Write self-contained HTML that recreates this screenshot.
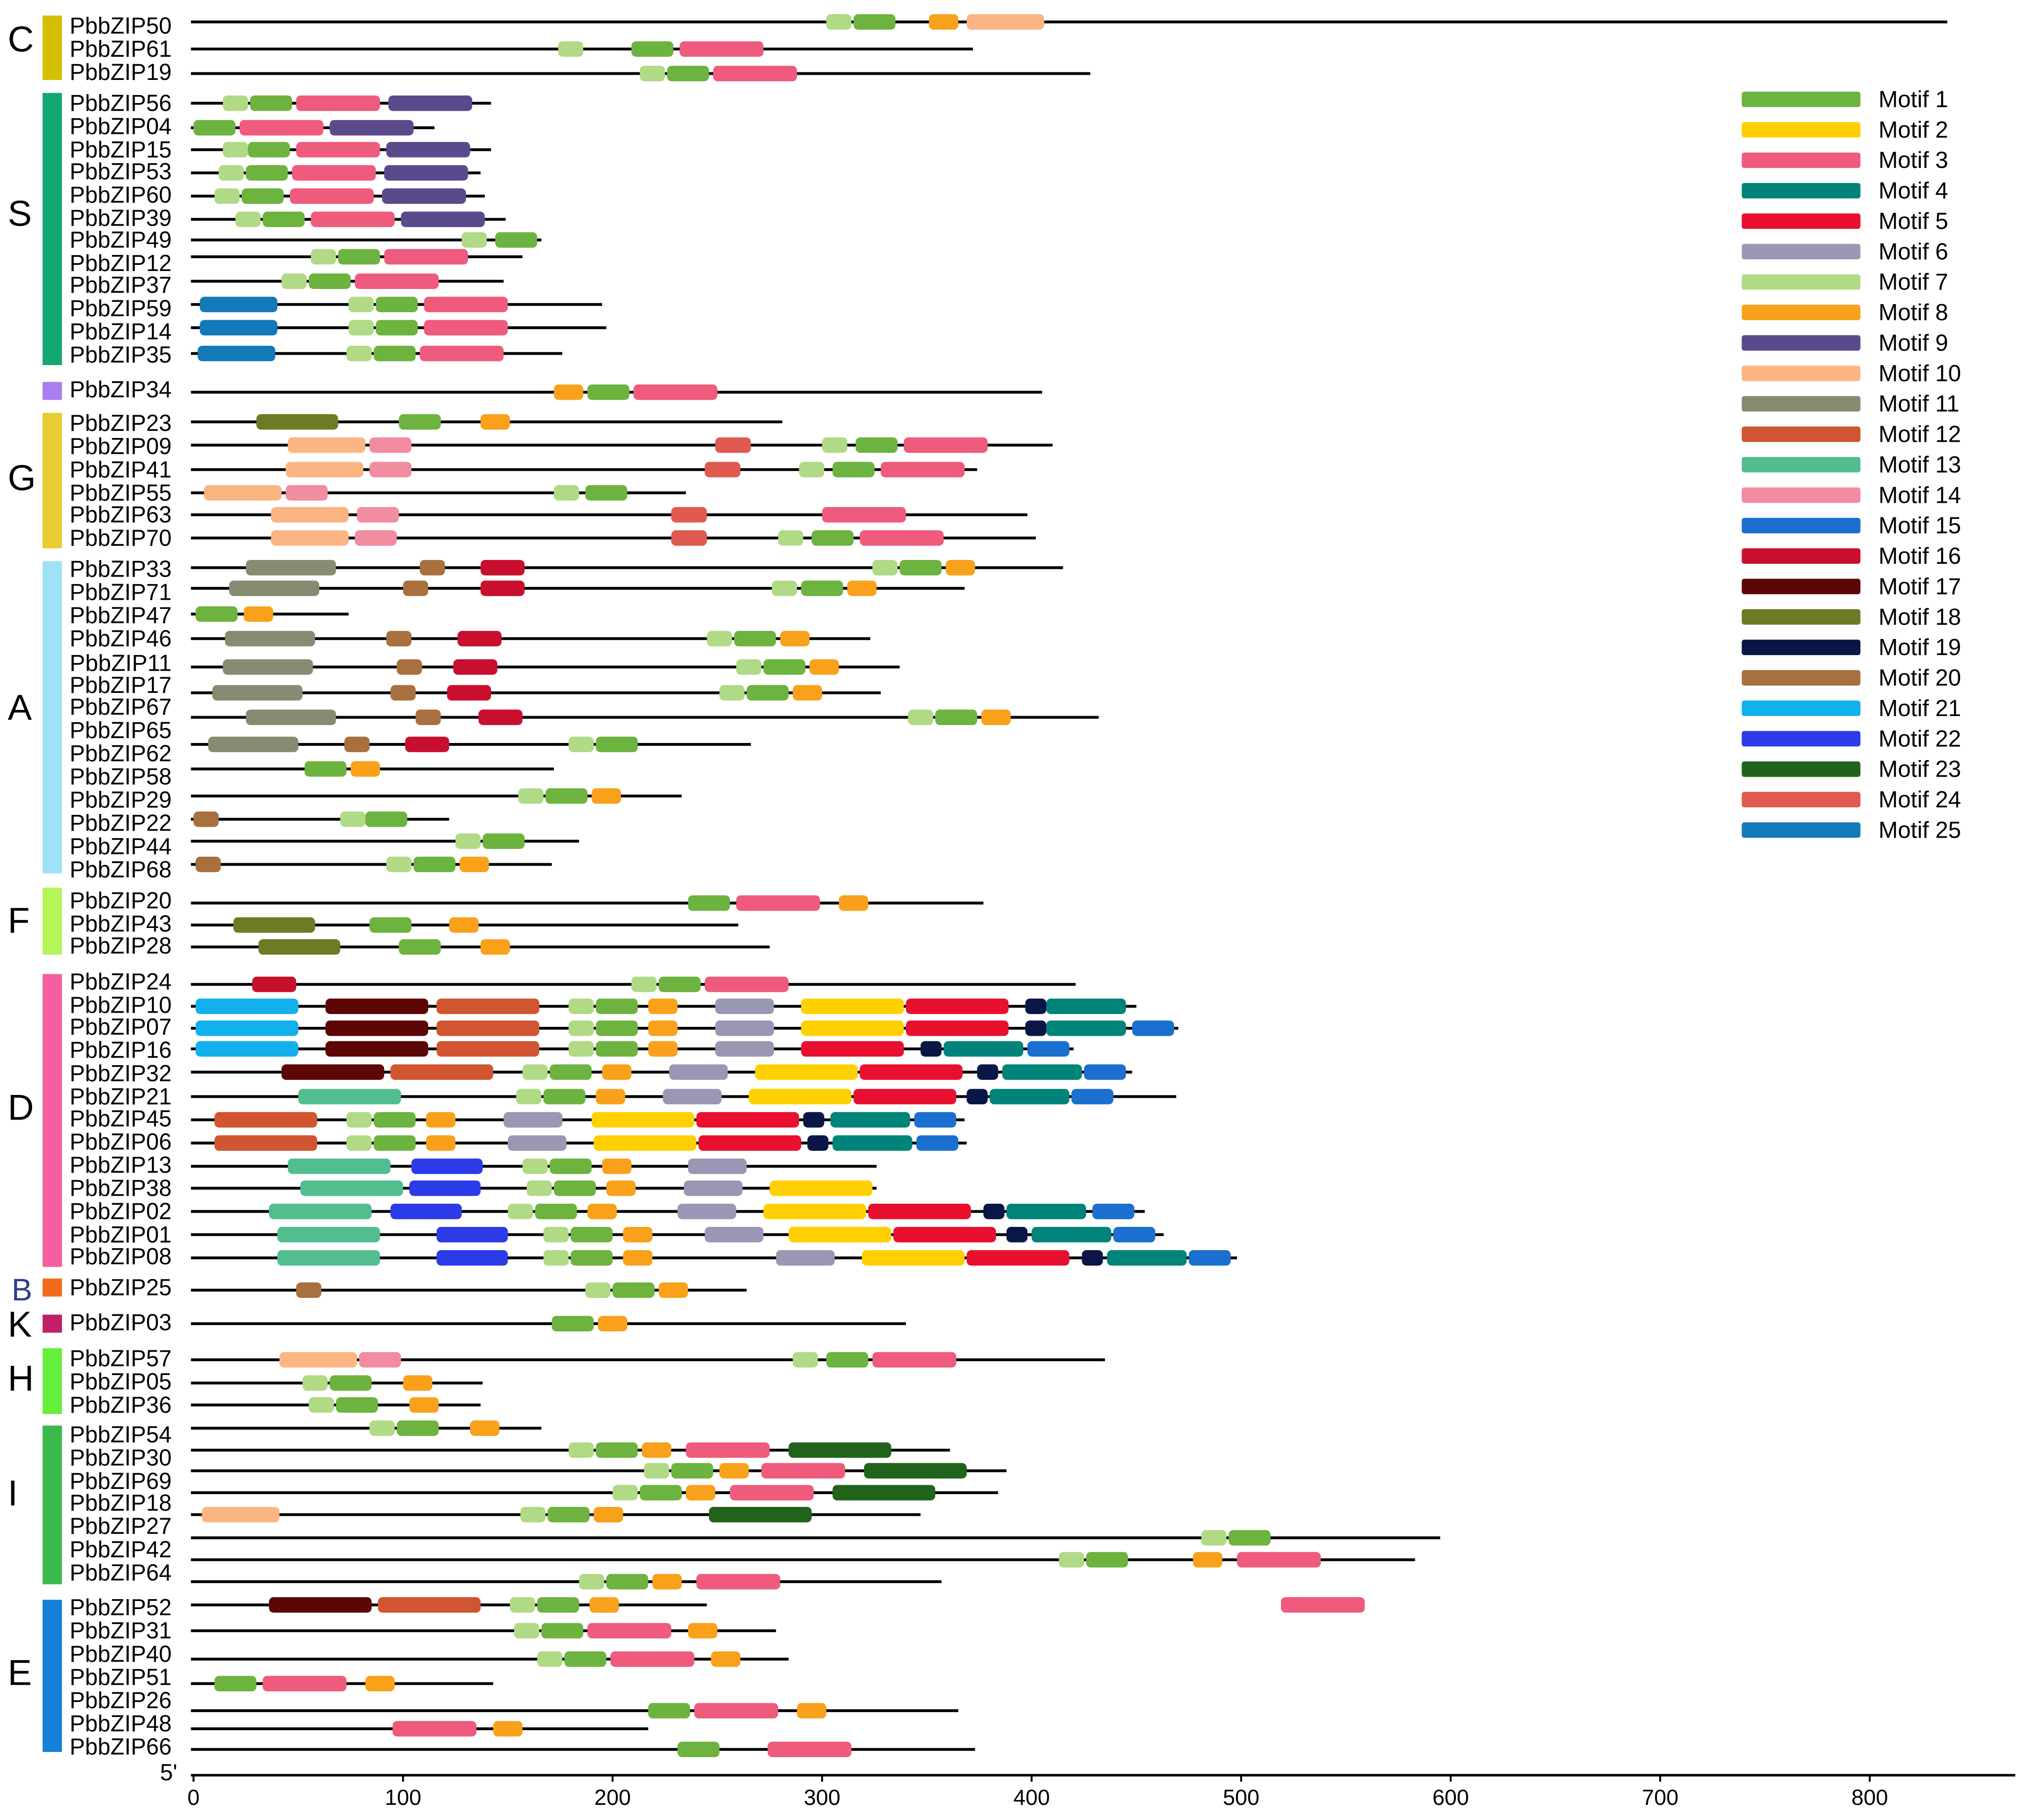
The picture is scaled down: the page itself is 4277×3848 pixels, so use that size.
<!DOCTYPE html>
<html><head><meta charset="utf-8">
<style>html,body{margin:0;padding:0;background:#fff}svg{display:block}</style></head>
<body>
<svg id="chart" width="4277" height="3848" viewBox="0 0 1568 1410.7" xmlns="http://www.w3.org/2000/svg" font-family="'Liberation Sans', sans-serif"></svg>
<script>
const motifColors=["#6db33f","#ffd000","#ef5b7c","#00847a","#e8102e","#9a97b4","#b0da85","#f9a11b","#5b4a8b","#fbb583","#858c72","#d15530","#52bd8e","#f28ca0","#1a6fcf","#c8102e","#5c0606","#6b7c24","#0a1645","#a8703f","#12b0ec","#2b3be8","#22631c","#e05a50","#1379b9"];
const motifWidths=[20,49,40,38,49,28,12,14,40,37,43,49,49,20,20,21,49,39,10,12,49,34,49,17,37];
const xTicks=[0,100,200,300,400,500,600,700,800];
const rowYs=[17,38,57,80,99,116,134,152,170,186,199,218,236,254,274,304,327,345,364,382,399,417,440,456,476,495,517,537,556,577,596,617,635,652,670,700,717,734,763,780,797,813,831,850,868,886,904,921,939,957,975,1000,1026,1054,1072,1089,1107,1124,1140,1157,1174,1192,1209,1226,1244,1264,1286,1305,1326,1340,1356];
const proteinLengths=[837,372,428,142,115,142,137,139,149,166,157,148,195,197,176,405,281,410,374,235,398,402,415,368,74,323,337,328,432,266,172,233,122,184,171,377,260,275,421,450,470,420,448,469,368,369,326,326,454,463,498,264,340,435,138,137,166,361,388,384,347,595,583,357,245,278,284,143,365,217,373];
const D10=[[21,1],[17,63],[12,116],[7,179],[1,192],[8,217],[6,249],[2,290],[5,340],[19,397],[4,407]];
const motifSites=[
[[7,302],[1,315],[8,351],[10,369]],
[[7,174],[1,209],[3,232]],
[[7,213],[1,226],[3,248]],
[[7,14],[1,27],[3,49],[9,93]],
[[1,0],[3,22],[9,65]],
[[7,14],[1,26],[3,49],[9,92]],
[[7,12],[1,25],[3,47],[9,91]],
[[7,10],[1,23],[3,46],[9,90]],
[[7,20],[1,33],[3,56],[9,99]],
[[7,128],[1,144]],
[[7,56],[1,69],[3,91]],
[[7,42],[1,55],[3,77]],
[[25,3],[7,74],[1,87],[3,110]],
[[25,3],[7,74],[1,87],[3,110]],
[[25,2],[7,73],[1,86],[3,108]],
[[8,172],[1,188],[3,210]],
[[18,30],[1,98],[8,137]],
[[10,45],[14,84],[24,249],[7,300],[1,316],[3,339]],
[[10,44],[14,84],[24,244],[7,289],[1,305],[3,328]],
[[10,5],[14,44],[7,172],[1,187]],
[[10,37],[14,78],[24,228],[3,300]],
[[10,37],[14,77],[24,228],[7,279],[1,295],[3,318]],
[[11,25],[20,108],[16,137],[7,324],[1,337],[8,359]],
[[11,17],[20,100],[16,137],[7,276],[1,290],[8,312]],
[[1,1],[8,24]],
[[11,15],[20,92],[16,126],[7,245],[1,258],[8,280]],
[[11,14],[20,97],[16,124],[7,259],[1,272],[8,294]],
[[11,9],[20,94],[16,121],[7,251],[1,264],[8,286]],
[[11,25],[20,106],[16,136],[7,341],[1,354],[8,376]],
[[11,7],[20,72],[16,101],[7,179],[1,192]],
[[1,53],[8,75]],
[[7,155],[1,168],[8,190]],
[[20,0],[7,70],[1,82]],
[[7,125],[1,138]],
[[20,1],[7,92],[1,105],[8,127]],
[[1,236],[3,259],[8,308]],
[[18,19],[1,84],[8,122]],
[[18,31],[1,98],[8,137]],
[[16,28],[7,209],[1,222],[3,244]],
D10,
D10.concat([[15,448]]),
[[21,1],[17,63],[12,116],[7,179],[1,192],[8,217],[6,249],[5,290],[19,347],[4,358],[15,398]],
[[17,42],[12,94],[7,157],[1,170],[8,195],[6,227],[2,268],[5,318],[19,374],[4,386],[15,425]],
[[13,50],[7,154],[1,167],[8,192],[6,224],[2,265],[5,315],[19,369],[4,380],[15,419]],
[[12,10],[7,73],[1,86],[8,111],[6,148],[2,190],[5,240],[19,291],[4,304],[15,344]],
[[12,10],[7,73],[1,86],[8,111],[6,150],[2,191],[5,241],[19,293],[4,305],[15,345]],
[[13,45],[22,104],[7,157],[1,170],[8,195],[6,236]],
[[13,51],[22,103],[7,159],[1,172],[8,197],[6,234],[2,275]],
[[13,36],[22,94],[7,150],[1,163],[8,188],[6,231],[2,272],[5,322],[19,377],[4,388],[15,429]],
[[13,40],[22,116],[7,167],[1,180],[8,205],[6,244],[2,284],[5,334],[19,388],[4,400],[15,439]],
[[13,40],[22,116],[7,167],[1,180],[8,205],[6,278],[2,319],[5,369],[19,424],[4,436],[15,475]],
[[20,49],[7,187],[1,200],[8,222]],
[[1,171],[8,193]],
[[10,41],[14,79],[7,286],[1,302],[3,324]],
[[7,52],[1,65],[8,100]],
[[7,55],[1,68],[8,103]],
[[7,84],[1,97],[8,132]],
[[7,179],[1,192],[8,214],[3,235],[23,284]],
[[7,215],[1,228],[8,251],[3,271],[23,320]],
[[7,200],[1,213],[8,235],[3,256],[23,305]],
[[10,4],[7,156],[1,169],[8,191],[23,246]],
[[7,481],[1,494]],
[[7,413],[1,426],[8,477],[3,498]],
[[7,184],[1,197],[8,219],[3,240]],
[[17,36],[12,88],[7,151],[1,164],[8,189],[3,519]],
[[7,153],[1,166],[3,188],[8,236]],
[[7,164],[1,177],[3,199],[8,247]],
[[1,10],[3,33],[8,82]],
[[1,217],[3,239],[8,288]],
[[3,95],[8,143]],
[[1,231],[3,274]]
];
const geneNames=["50","61","19","56","04","15","53","60","39","49","12","37","59","14","35","34","23","09","41","55","63","70","33","71","47","46","11","17","67","65","62","58","29","22","44","68","20","43","28","24","10","07","16","32","21","45","06","13","38","02","01","08","25","03","57","05","36","54","30","69","18","27","42","64","52","31","40","51","26","48","66"];
const labelYs=[20,38,56,80,98,116,133,151,169,186,204,221,239,257,275,302,328,346,364,382,399,417,441,459,477,495,514,531,548,566,584,602,620,638,656,674,698,716,733,761,779,796,814,832,850,867,885,903,921,939,957,974,998,1025,1053,1071,1089,1112,1130,1148,1165,1183,1201,1219,1246,1264,1282,1300,1318,1336,1354];
const groups=[["C",12,62,"#d4c000",30],["S",72,283,"#12a870",165],["",296,310,"#a77ff0",0],["G",320,425,"#e8cc30",370],["A",435,677,"#9ee3f5",548],["F",688,740,"#b5f55a",713],["D",755,982,"#f55ea0",858],["B",991,1005,"#f26b1a",998],["K",1019,1033,"#c0206a",1026],["H",1045,1096,"#66ee3d",1068],["I",1105,1228,"#3cb84a",1157],["E",1240,1358,"#1480d8",1296]];

const NS="http://www.w3.org/2000/svg";
const svg=document.getElementById('chart');
const X0=150, PX=1.624, BH=12;
const xs=v=>X0+v*PX;
function mk(tag,attrs,parent){const e=document.createElementNS(NS,tag);for(const k in attrs)e.setAttribute(k,attrs[k]);(parent||svg).appendChild(e);return e;}

groups.forEach(g=>{
  const r=mk('rect',{x:33,y:g[1],width:15,height:g[2]-g[1],fill:g[3]});
  
  
  if(g[0]){
    const t=mk('text',{x:g[0]==='B'?9:6,y:g[4]+10,'font-size':g[0]==='B'?24:28,fill:g[0]==='B'?'#2d3e8a':'#000'});
    t.textContent=g[0];
    
    
  }
});
geneNames.forEach((n,i)=>{
  const t=mk('text',{x:54,y:labelYs[i]+6,'font-size':18,textLength:79,lengthAdjust:'spacingAndGlyphs'});
  t.textContent='PbbZIP'+n;
  
  
});
rowYs.forEach((y,i)=>{
  const g=mk('g',{});
  
  
  const l=mk('line',{x1:xs(0)-2,x2:xs(proteinLengths[i]),y1:y,y2:y,stroke:'#000','stroke-width':2.2},g);
  
  
  motifSites[i].forEach(m=>{
    const r=mk('rect',{x:xs(m[1]),y:y-BH/2,width:motifWidths[m[0]-1]*PX,height:BH,rx:3.5,fill:motifColors[m[0]-1]},g);
    
    
  });
});
motifColors.forEach((c,i)=>{
  const y=77+i*23.6;
  const r=mk('rect',{x:1350,y:y-6,width:92,height:12,rx:2,fill:c});
  
  
  const t=mk('text',{x:1456,y:y+6,'font-size':18});
  t.textContent='Motif '+(i+1);
  
  
});
const ax=mk('line',{x1:148,x2:1562,y1:1376,y2:1376,stroke:'#000','stroke-width':2});


xTicks.forEach(v=>{
  const tk=mk('line',{x1:xs(v),x2:xs(v),y1:1376,y2:1381,stroke:'#000','stroke-width':1.5});
  
  
  const t=mk('text',{x:xs(v),y:1399,'font-size':17,'text-anchor':'middle'});
  t.textContent=v;
  
  
});
const f=mk('text',{x:124,y:1380,'font-size':18});
f.textContent="5'";


</script>
</body></html>
